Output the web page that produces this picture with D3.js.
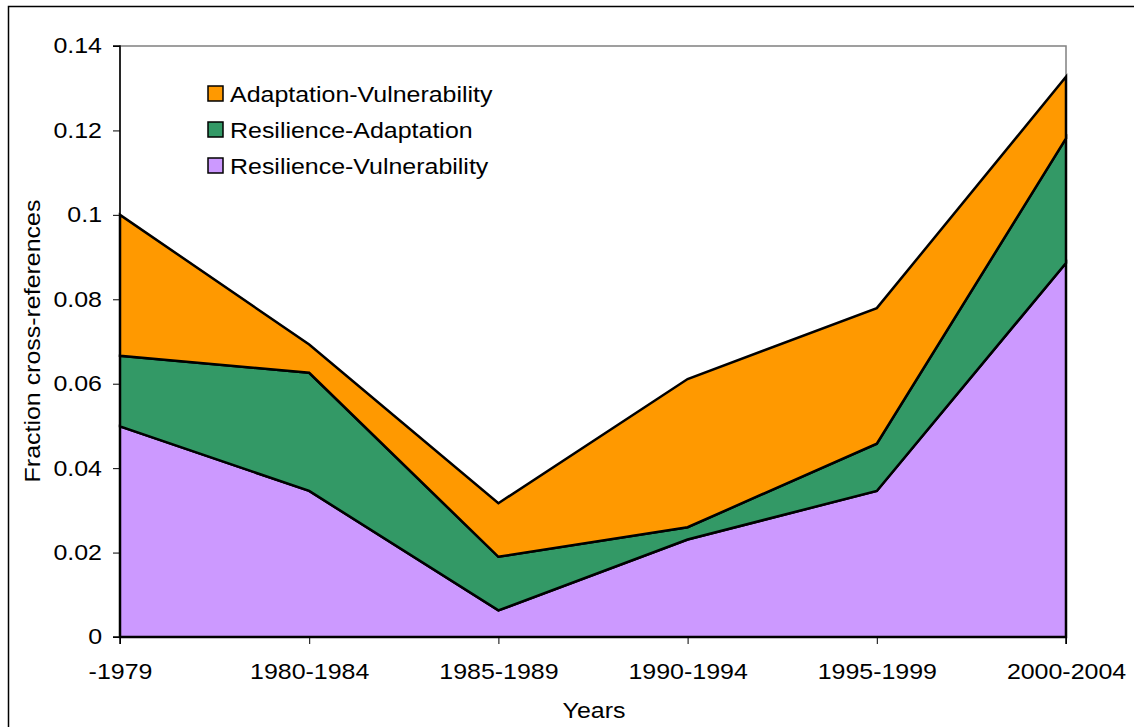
<!DOCTYPE html>
<html><head><meta charset="utf-8">
<script src="https://cdn.jsdelivr.net/npm/d3@7"></script>
<style>body{margin:0;background:#fff}svg{display:block}text{font-family:"Liberation Sans",Arial,sans-serif;fill:#000}</style>
</head><body><svg id="c" width="1134" height="727"></svg>
<script>
const categories = ["-1979","1980-1984","1985-1989","1990-1994","1995-1999","2000-2004"];
const resilienceVulnerability = [0.0499, 0.0346, 0.0063, 0.0231, 0.0346, 0.0886];
const resilienceAdaptation   = [0.0167, 0.0280, 0.0127, 0.0029, 0.0112, 0.0295];
const adaptationVulnerability = [0.0334, 0.0067, 0.0127, 0.0351, 0.0321, 0.0146];
const yTicks = [0, 0.02, 0.04, 0.06, 0.08, 0.1, 0.12, 0.14];
const seriesNames = ["Resilience-Vulnerability","Resilience-Adaptation","Adaptation-Vulnerability"];
const colors = {"Resilience-Vulnerability":"#CC99FF","Resilience-Adaptation":"#339966","Adaptation-Vulnerability":"#FF9900"};

const rows = categories.map((c,i)=>({cat:c,
  "Resilience-Vulnerability":resilienceVulnerability[i],
  "Resilience-Adaptation":resilienceAdaptation[i],
  "Adaptation-Vulnerability":adaptationVulnerability[i]}));

const svg = d3.select("#c");
const L=120,R=1066,T=46,B=637;
const FS = 21.5;
const x = d3.scalePoint().domain(categories).range([L,R]).padding(0);
const y = d3.scaleLinear().domain([0,0.14]).range([B,T]);
const STRETCH = 1.16;
function stretch(sel){
  sel.each(function(){
    const w = this.getComputedTextLength();
    d3.select(this).attr("textLength", w*STRETCH).attr("lengthAdjust","spacingAndGlyphs");
  });
}

// outer frame
svg.append("rect").attr("x",8.5).attr("y",6.5).attr("width",1200).attr("height",800)
  .attr("fill","none").attr("stroke","#000").attr("stroke-width",1.5);

// plot border (gray)
svg.append("rect").attr("x",L).attr("y",T).attr("width",R-L).attr("height",B-T)
  .attr("fill","none").attr("stroke","#808080").attr("stroke-width",1.5);

const stack = d3.stack().keys(seriesNames)(rows);
const area = d3.area().x((d,i)=>x(categories[i])).y0(d=>y(d[0])).y1(d=>y(d[1]));
svg.append("g").selectAll("path").data(stack).join("path")
  .attr("d",area).attr("fill",d=>colors[d.key])
  .attr("stroke","#000").attr("stroke-width",2.5).attr("stroke-linejoin","miter");

// axes
const yAxis = d3.axisLeft(y).tickValues(yTicks).tickSize(7).tickPadding(11).tickFormat(d=>d===0?"0":String(+d.toFixed(2)));
const gy = svg.append("g").attr("transform",`translate(${L},0)`).call(yAxis);
const xAxis = d3.axisBottom(x).tickSize(7).tickPadding(20);
const gx = svg.append("g").attr("transform",`translate(0,${B})`).call(xAxis);
[gx,gy].forEach(g=>{
  g.attr("font-family",null).attr("font-size",null);
  g.select(".domain").attr("stroke","#000").attr("stroke-width",1.5);
  g.selectAll(".tick line").attr("stroke","#000").attr("stroke-width",1);
  g.selectAll(".tick text").attr("font-size",FS).attr("fill","#000").call(stretch);
});
gy.select(".domain").attr("d",`M-7,${T}H0V${B}H-7`);
gx.select(".domain").attr("d",`M${L},7V0H${R}V7`);

// axis titles
svg.append("text").attr("x",594).attr("y",718).attr("text-anchor","middle").attr("font-size",FS).text("Years").call(stretch);
svg.append("text").attr("transform","translate(40,341) rotate(-90)").attr("text-anchor","middle").attr("font-size",FS).text("Fraction cross-references").call(stretch);

// legend
const legendOrder = ["Adaptation-Vulnerability","Resilience-Adaptation","Resilience-Vulnerability"];
const lg = svg.append("g");
legendOrder.forEach((k,i)=>{
  const cy = 94 + i*36;
  lg.append("rect").attr("x",208).attr("y",cy-8).attr("width",15).attr("height",15)
    .attr("fill",colors[k]).attr("stroke","#000").attr("stroke-width",1.5);
  lg.append("text").attr("x",230).attr("y",cy+7.5).attr("font-size",FS).text(k).call(stretch);
});
</script></body></html>
